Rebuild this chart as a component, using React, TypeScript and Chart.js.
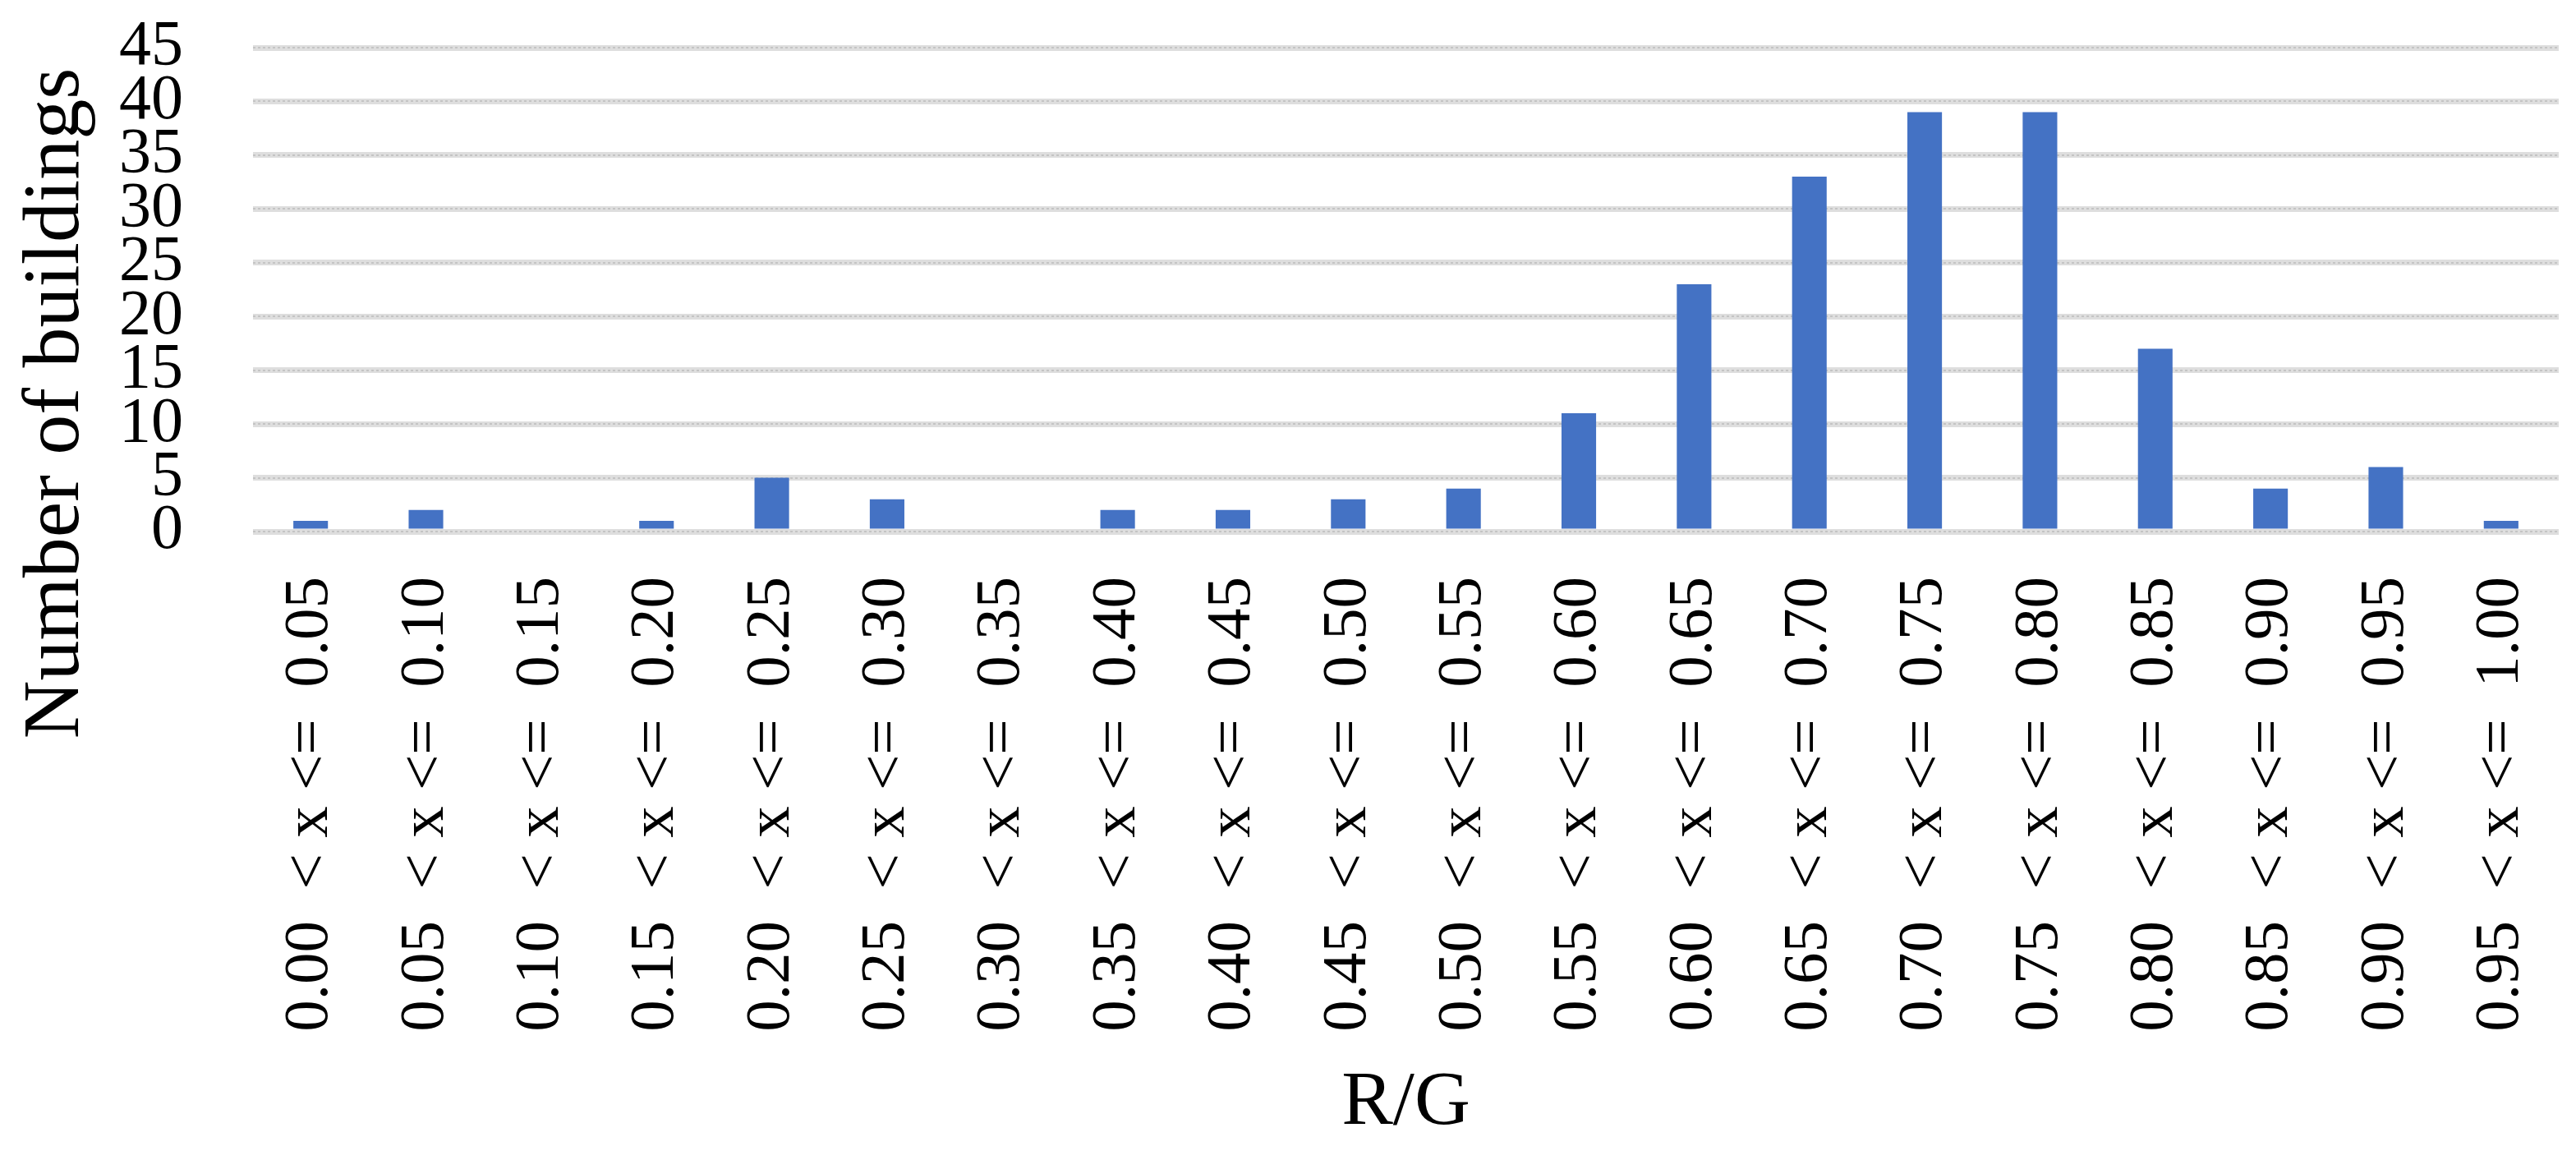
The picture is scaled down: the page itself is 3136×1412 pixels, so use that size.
import { useEffect, useRef } from 'react';
import { Chart, registerables } from 'chart.js';

Chart.register(...registerables);

// Bin bounds (R/G) and counts of buildings per bin
const binLower = ['0.00', '0.05', '0.10', '0.15', '0.20', '0.25', '0.30', '0.35', '0.40', '0.45',
  '0.50', '0.55', '0.60', '0.65', '0.70', '0.75', '0.80', '0.85', '0.90', '0.95'];
const binUpper = ['0.05', '0.10', '0.15', '0.20', '0.25', '0.30', '0.35', '0.40', '0.45', '0.50',
  '0.55', '0.60', '0.65', '0.70', '0.75', '0.80', '0.85', '0.90', '0.95', '1.00'];
const buildingCounts = [1, 2, 0, 1, 5, 3, 0, 2, 2, 3, 4, 11, 23, 33, 39, 39, 17, 4, 6, 1];

const yMin = 0;
const yMax = 45;
const yStep = 5;

const xTitle = 'R/G';
const yTitle = 'Number of buildings';

const categories = binLower.map((lo, i) => `${lo}  < x <=  ${binUpper[i]}`);

const FONT = '"Liberation Serif", "Times New Roman", serif';

const yTitlePlugin = {
  id: 'yTitleCustom',
  afterDraw(chart: any) {
    const { ctx } = chart;
    ctx.save();
    ctx.font = `98px ${FONT}`;
    ctx.fillStyle = '#000000';
    ctx.textAlign = 'center';
    ctx.textBaseline = 'alphabetic';
    ctx.translate(95, 491);
    ctx.rotate(-Math.PI / 2);
    ctx.fillText(yTitle, 0, 0);
    ctx.restore();
  },
};

// dotted texture over the light grey grid bands (as in the reference)
const gridDotsPlugin = {
  id: 'gridDots',
  beforeDatasetsDraw(chart: any) {
    const { ctx, chartArea } = chart;
    const yScale = chart.scales.y;
    ctx.save();
    ctx.strokeStyle = '#c4c4c4';
    ctx.lineWidth = 2;
    ctx.setLineDash([3, 3]);
    yScale.ticks.forEach((t: any) => {
      const py = Math.round(yScale.getPixelForValue(t.value));
      ctx.beginPath();
      ctx.moveTo(chartArea.left, py);
      ctx.lineTo(chartArea.right, py);
      ctx.stroke();
    });
    ctx.restore();
  },
};

export default function App() {
  const ref = useRef<HTMLCanvasElement>(null);

  useEffect(() => {
    document.body.style.margin = '0';
    const canvas = ref.current;
    if (!canvas) return;
    const chart = new Chart(canvas, {
      type: 'bar',
      data: {
        labels: categories,
        datasets: [
          {
            label: yTitle,
            data: buildingCounts,
            backgroundColor: '#4472C4',
            borderWidth: 0,
            categoryPercentage: 1,
            barPercentage: 0.3,
          },
        ],
      },
      plugins: [gridDotsPlugin, yTitlePlugin],
      options: {
        animation: false,
        responsive: false,
        devicePixelRatio: 1,
        layout: { padding: { left: 0, top: 58, right: 21, bottom: 0 } },
        plugins: {
          legend: { display: false },
          tooltip: { enabled: false },
          title: { display: false },
        },
        scales: {
          x: {
            grid: { display: false, drawTicks: false },
            border: { display: false },
            ticks: {
              autoSkip: false,
              minRotation: 90,
              maxRotation: 90,
              padding: 55,
              color: '#000000',
              font: { family: FONT, size: 77 },
            },
            title: {
              display: true,
              text: xTitle,
              color: '#000000',
              font: { family: FONT, size: 94 },
              padding: { top: 0, bottom: 12 },
            },
            afterFit(scale: any) {
              scale.height = 1412 - 647;
              scale.paddingLeft = 0;
              scale.paddingRight = 0;
            },
          },
          y: {
            min: yMin,
            max: yMax,
            grid: { color: '#dedede', lineWidth: 7, drawTicks: false },
            border: { display: false },
            ticks: {
              stepSize: yStep,
              autoSkip: false,
              padding: 85,
              color: '#000000',
              font: { family: FONT, size: 78 },
            },
            afterFit(scale: any) {
              scale.width = 308;
              scale.paddingTop = 0;
              scale.paddingBottom = 0;
            },
          },
        },
      },
    });
    return () => chart.destroy();
  }, []);

  return (
    <div style={{ position: 'relative', width: 3136, height: 1412, background: '#ffffff' }}>
      <canvas ref={ref} width={3136} height={1412} style={{ display: 'block' }} />
    </div>
  );
}
